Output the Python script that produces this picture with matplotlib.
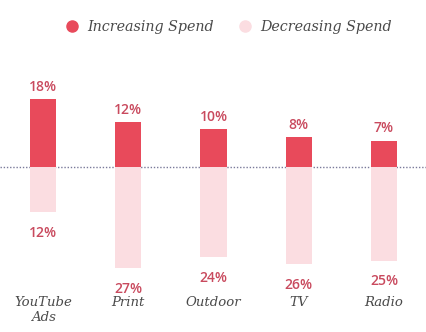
import matplotlib
matplotlib.use("Agg")
import matplotlib.pyplot as plt

categories = ["YouTube\nAds", "Print", "Outdoor", "TV", "Radio"]
increasing = [18, 12, 10, 8, 7]
decreasing = [12, 27, 24, 26, 25]

inc_color = "#e84a5b"
dec_color = "#fbdde1"
lab_color = "#c94a5e"
txt_color = "#4a4a4a"

fig = plt.figure(figsize=(4.27, 3.32), dpi=100)
ax = fig.add_axes([0, 0, 1, 1])
ax.set_xlim(-0.504, 4.504)
ax.set_ylim(-44, 44.5)
ax.axis("off")

x = list(range(len(categories)))
w = 0.31
ax.axhline(0, color="#7a7a9a", lw=1.0, ls=(0, (1, 1.3)), zorder=1)
ax.bar(x, increasing, width=w, color=inc_color, zorder=2)
ax.bar(x, [-d for d in decreasing], width=w, color=dec_color, zorder=2)

for xi, v in zip(x, increasing):
    ax.text(xi, v + 1.4, f"{v}%", ha="center", va="bottom", fontsize=10,
            color=lab_color, family="Open Sans", fontweight="semibold")
for xi, v in zip(x, decreasing):
    ax.text(xi, -v - 5.5, f"{v}%", ha="center", va="center", fontsize=10,
            color=lab_color, family="Open Sans", fontweight="semibold")
for xi, c in zip(x, categories):
    ax.text(xi, -34.5, c, ha="center", va="top", fontsize=9.5, color=txt_color,
            family="DejaVu Serif", style="italic", linespacing=1.15)

# legend
W, H = 427, 332
fig.lines.append(plt.Line2D([72 / W], [1 - 26 / H], marker="o", ms=8, color=inc_color,
                            transform=fig.transFigure, lw=0))
fig.lines.append(plt.Line2D([245 / W], [1 - 26 / H], marker="o", ms=8, color=dec_color,
                            transform=fig.transFigure, lw=0))
fig.text(87 / W, 1 - 27 / H, "Increasing Spend", ha="left", va="center", fontsize=10.3,
         color=txt_color, family="DejaVu Serif", style="italic")
fig.text(260 / W, 1 - 27 / H, "Decreasing Spend", ha="left", va="center", fontsize=10.3,
         color=txt_color, family="DejaVu Serif", style="italic")

fig.savefig("out.png", dpi=100, facecolor="white")
